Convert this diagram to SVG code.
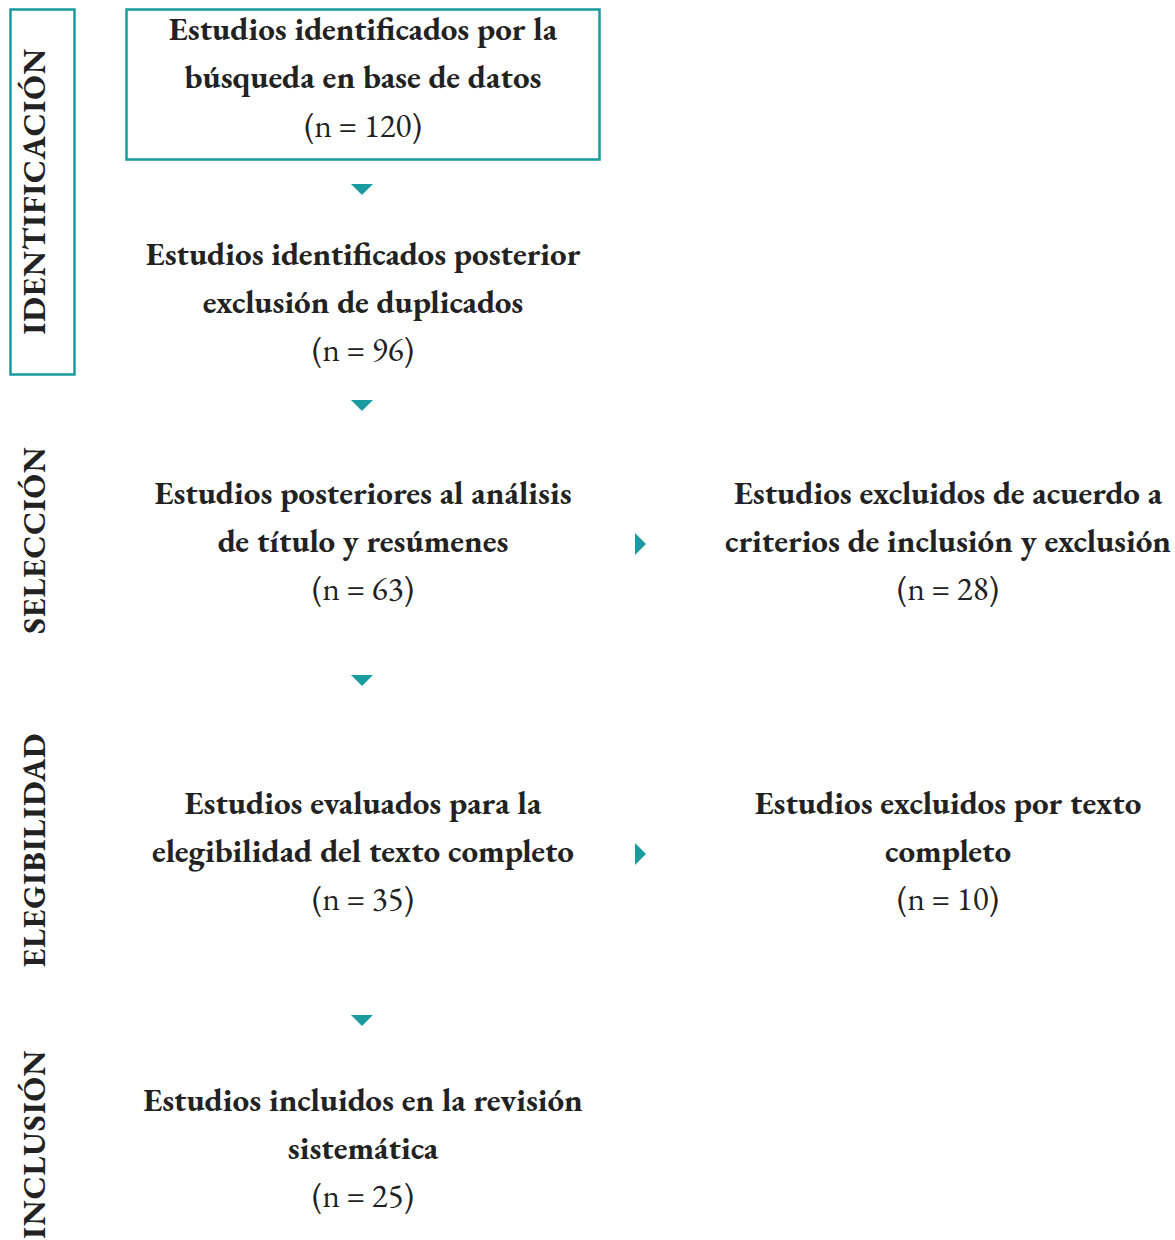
<svg xmlns="http://www.w3.org/2000/svg" width="1175" height="1240" viewBox="0 0 1175 1240">
<style>
.t{font-family:"EB Garamond","Liberation Serif","DejaVu Serif",serif;font-size:33px;font-weight:bold;fill:#222;text-anchor:middle}
.n{font-family:"EB Garamond","Liberation Serif","DejaVu Serif",serif;font-size:33px;fill:#222;text-anchor:middle}
.v{font-family:"EB Garamond","Liberation Serif","DejaVu Serif",serif;font-size:32px;font-weight:bold;fill:#222;text-anchor:middle;letter-spacing:1px}
.box{fill:none;stroke:#1a9ba0;stroke-width:2.5}
.ar{fill:#1a9ba0}
</style>
<rect width="1175" height="1240" fill="#fff"/>
<g id="stage-identificacion">
<rect class="box" x="10.5" y="9.5" width="64" height="365"/>
<text class="v" transform="translate(45,191) rotate(-90)">IDENTIFICACIÓN</text>
</g>
<g id="stage-seleccion"><text class="v" transform="translate(45,540) rotate(-90)">SELECCIÓN</text></g>
<g id="stage-elegibilidad"><text class="v" transform="translate(45,850) rotate(-90)">ELEGIBILIDAD</text></g>
<g id="stage-inclusion"><text class="v" transform="translate(45,1144) rotate(-90)">INCLUSIÓN</text></g>
<g id="n1">
<rect class="box" x="126.5" y="9.5" width="473" height="150"/>
<text class="t" x="363" y="40">Estudios identificados por la</text>
<text class="t" x="363" y="88">búsqueda en base de datos</text>
<text class="n" x="363" y="137">(n = 120)</text>
</g>
<g id="n2">
<text class="t" x="363" y="265">Estudios identificados posterior</text>
<text class="t" x="363" y="313">exclusión de duplicados</text>
<text class="n" x="363" y="361">(n = 96)</text>
</g>
<g id="n3">
<text class="t" x="363" y="504">Estudios posteriores al análisis</text>
<text class="t" x="363" y="552">de título y resúmenes</text>
<text class="n" x="363" y="600">(n = 63)</text>
</g>
<g id="n4">
<text class="t" x="948" y="504">Estudios excluidos de acuerdo a</text>
<text class="t" x="948" y="552">criterios de inclusión y exclusión</text>
<text class="n" x="948" y="600">(n = 28)</text>
</g>
<g id="n5">
<text class="t" x="363" y="814">Estudios evaluados para la</text>
<text class="t" x="363" y="862">elegibilidad del texto completo</text>
<text class="n" x="363" y="910">(n = 35)</text>
</g>
<g id="n6">
<text class="t" x="948" y="814">Estudios excluidos por texto</text>
<text class="t" x="948" y="862">completo</text>
<text class="n" x="948" y="910">(n = 10)</text>
</g>
<g id="n7">
<text class="t" x="363" y="1111">Estudios incluidos en la revisión</text>
<text class="t" x="363" y="1159">sistemática</text>
<text class="n" x="363" y="1207">(n = 25)</text>
</g>
<g id="connectors">
<polygon class="ar" points="351,184 373,184 362,195"/>
<polygon class="ar" points="351,400 373,400 362,411"/>
<polygon class="ar" points="351,675 373,675 362,686"/>
<polygon class="ar" points="351,1015 373,1015 362,1026"/>
<polygon class="ar" points="635,533 646,544 635,555"/>
<polygon class="ar" points="635,843 646,854 635,865"/>
</g>
</svg>
